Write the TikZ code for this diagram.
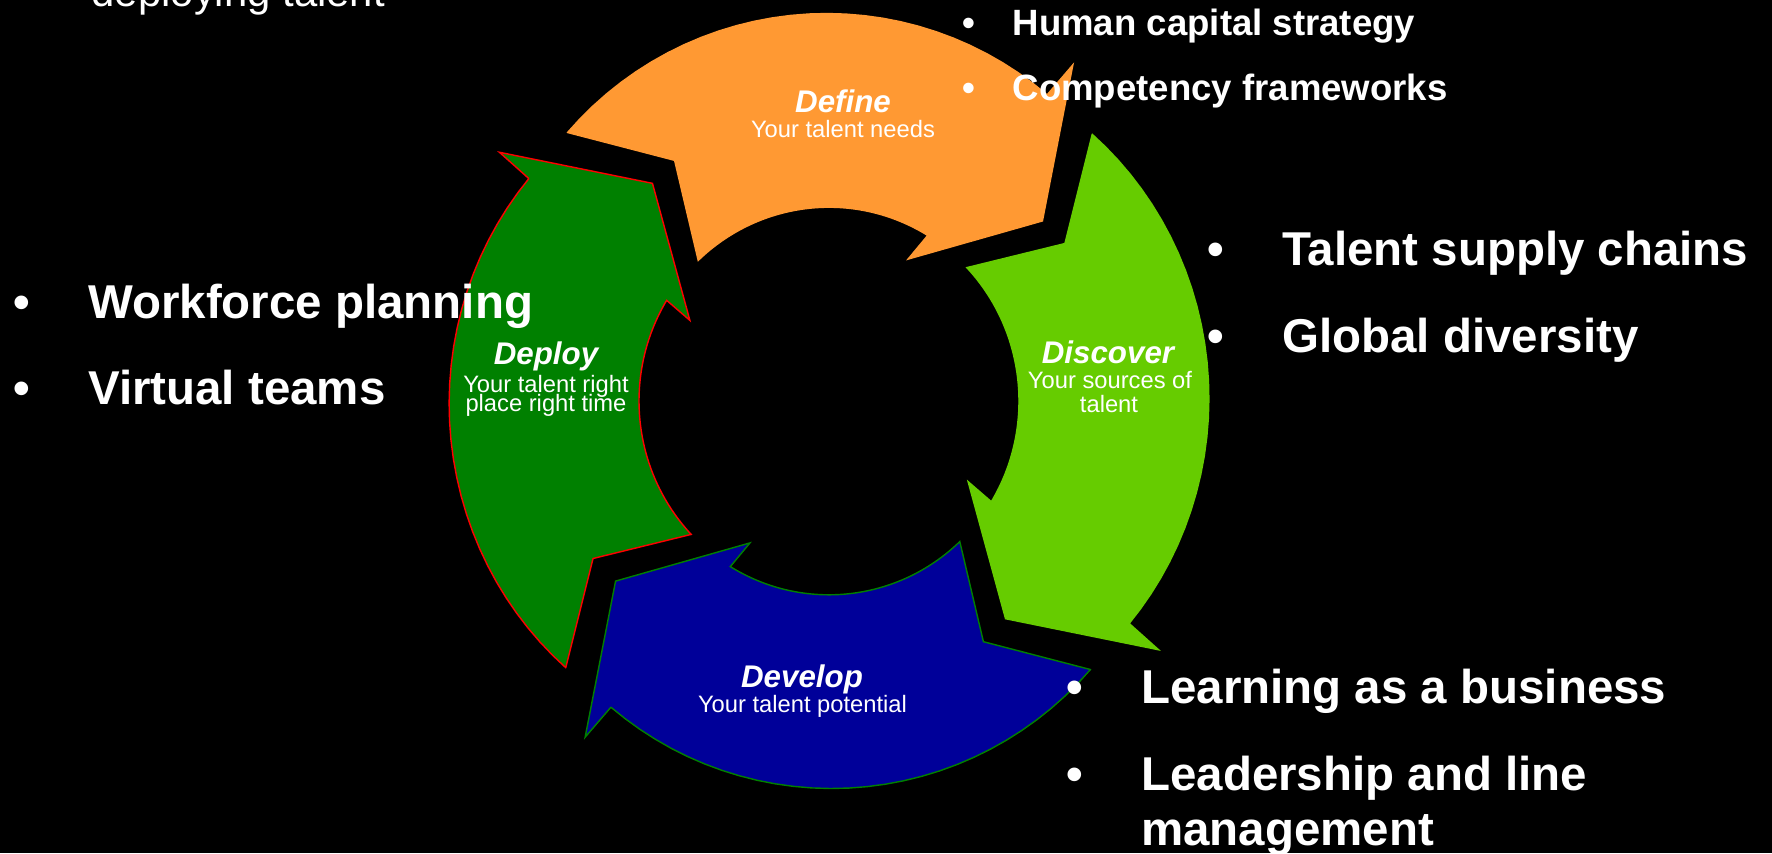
\documentclass[tikz,border=0pt]{standalone}
\usepackage{fontspec}
\setmainfont{Liberation Sans}
\usepackage{xcolor}
\usepackage{tikz}
\definecolor{defineorange}{HTML}{FF9933}
\definecolor{discovergreen}{HTML}{66CC00}
\definecolor{developblue}{HTML}{000099}
\definecolor{deploygreen}{HTML}{008000}
\tikzset{every picture/.style={x=0.01cm,y=-0.01cm,every node/.style={text=white,inner sep=0pt}},
  stage/.style={anchor=base,font=\bfseries\itshape\fontsize{8.9}{10.7}\selectfont},
  stagesub/.style={anchor=base,font=\fontsize{6.75}{8.1}\selectfont},
  bigitem/.style={anchor=base west,font=\bfseries\fontsize{13.5}{16.2}\selectfont},
  smallitem/.style={anchor=base west,font=\bfseries\fontsize{10.4}{12.5}\selectfont},
  ring/.style={line width=0.4pt,line join=miter}}
\newcommand{\bul}{\makebox[0.75cm][l]{\textbullet}}

\begin{document}
\begin{tikzpicture}
        \fill[black] (0,0) rectangle (1772,853);
        \useasboundingbox (0,0) rectangle (1772,853);

        \begin{scope}[shift={(829,401)},x=0.01cm,y=0.01cm,yscale=1.02]
          \foreach \rot/\fillc/\drawc in {
            0/defineorange/defineorange,
            -90/discovergreen/discovergreen,
            180/developblue/deploygreen,
            90/deploygreen/red}
          {
            \begin{scope}[rotate=\rot]
              \filldraw[ring,fill=\fillc,draw=\drawc] (134.8:371) -- (123.2:282) -- (133.5:190)
                arc[start angle=133.5,end angle=58.7,radius=190] -- (60.4:160) -- (39.6:277)
                -- (53.5:410) -- (54:371)
                -- plot[domain=54:134.8,samples=30] (\x:{380-0.0055*(\x-94.4)^2}) -- cycle;
            \end{scope}
          }
        \end{scope}

        \node[stage] (define) at (843,112) {Define};
        \node[stagesub] (define-sub) at (843,137) {Your talent needs};
        \node[stage] (discover) at (1108,363) {Discover};
        \node[stagesub] (discover-sub) at (1110,388) {Your sources of};
        \node[stagesub] (discover-sub2) at (1109,412) {talent};
        \node[stage] (develop) at (802,687) {Develop};
        \node[stagesub] (develop-sub) at (802.5,712) {Your talent potential};
        \node[stage] (deploy) at (546,364) {Deploy};
        \node[stagesub] (deploy-sub) at (546,392.5) {Your talent right};
        \node[stagesub] (deploy-sub2) at (546,411.5) {place right time};

        \node[anchor=base west,font=\fontsize{11.9}{14}\selectfont] (deploying) at (91,6) {deploying talent};

        \node[smallitem] (human) at (962,35) {\makebox[0.5cm][l]{\textbullet}Human capital strategy};
        \node[smallitem] (competency) at (962,100) {\makebox[0.5cm][l]{\textbullet}Competency frameworks};

        \node[bigitem] (workforce) at (12.5,318) {\bul Workforce planning};
        \node[bigitem] (virtual) at (12.5,404) {\bul Virtual teams};
        \node[bigitem] (supply) at (1206.5,265) {\bul Talent supply chains};
        \node[bigitem] (diversity) at (1206.5,352) {\bul Global diversity};
        \node[bigitem] (learning) at (1065.5,703) {\bul Learning as a business};
        \node[bigitem] (leadership) at (1065.5,790) {\bul Leadership and line};
        \node[bigitem] (management) at (1140.5,845) {management};
      \end{tikzpicture}
\end{document}
